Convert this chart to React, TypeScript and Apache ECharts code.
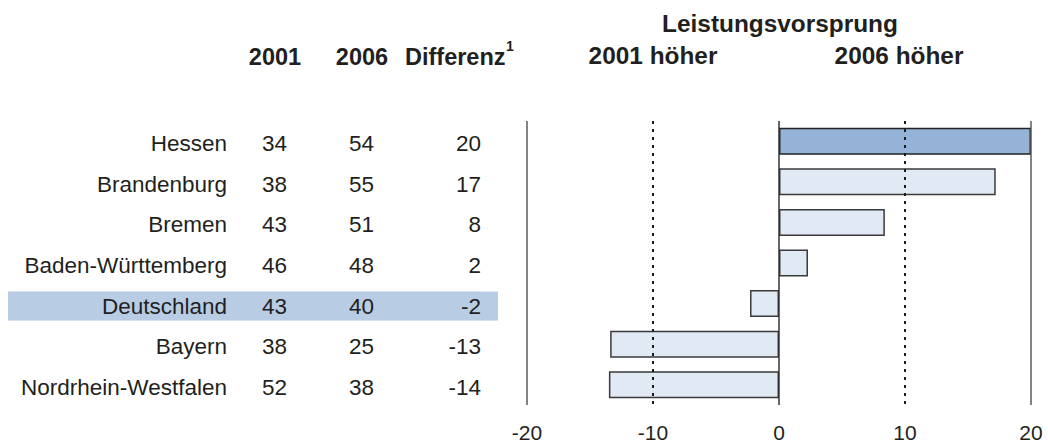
import React, { useEffect, useRef } from "react";
import * as echarts from "echarts";

const regions = [
  "Hessen",
  "Brandenburg",
  "Bremen",
  "Baden-Württemberg",
  "Deutschland",
  "Bayern",
  "Nordrhein-Westfalen",
];
const score2001 = ["34", "38", "43", "46", "43", "38", "52"];
const score2006 = ["54", "55", "51", "48", "40", "25", "38"];
const diffLabels = ["20", "17", "8", "2", "-2", "-13", "-14"];
const barValues = [20, 17.2, 8.4, 2.3, -2.3, -13.4, -13.5];
const highlightBar = "Hessen";
const highlightRow = "Deutschland";
const refLines = [-20, -10, 0, 10, 20];

const FONT = "'Liberation Sans', Arial, Helvetica, sans-serif";
const TXT = "#231f20";
const BAND = "#b8cce4";

function tok(width: number, hl: boolean) {
  const s: any = {
    width,
    align: "right",
    fontSize: 22.5,
    color: TXT,
    fontFamily: FONT,
    lineHeight: hl ? 29 : 22,
  };
  if (hl) {
    s.backgroundColor = BAND;
    s.height = 29;
  }
  return s;
}

export default function App() {
  const ref = useRef<HTMLDivElement>(null);
  useEffect(() => {
    if (!ref.current) return;
    const chart = echarts.init(ref.current, undefined, { renderer: "svg" });

    const refLineData = refLines.map((v) => {
      const dotted = v === -10 || v === 10;
      return {
        xAxis: v,
        lineStyle: dotted
          ? { type: [3, 5], color: "#1a1a1a", width: 2 }
          : { type: "solid", color: v === 0 ? "#333" : "#5a5a5a", width: 1.5 },
      };
    });

    const colWidths = { n: 219, a: 60, b: 87, c: 107, p: 17 };
    const rich: any = {};
    (Object.keys(colWidths) as (keyof typeof colWidths)[]).forEach((k) => {
      rich[k] = tok(colWidths[k], false);
      rich[k + "h"] = tok(colWidths[k], true);
    });

    const bold = (size: number) => ({
      fontSize: size,
      fontWeight: "bold",
      fontFamily: FONT,
      fill: TXT,
      verticalAlign: "middle",
    });

    chart.setOption({
      animation: false,
      textStyle: { fontFamily: FONT },
      grid: { left: 527, right: 17, top: 121, bottom: 41, containLabel: false },
      xAxis: {
        type: "value",
        min: -20,
        max: 20,
        interval: 10,
        axisLine: { show: false },
        axisTick: { show: false },
        splitLine: { show: false },
        axisLabel: { fontSize: 21, color: TXT, margin: 17, fontFamily: FONT },
      },
      yAxis: {
        type: "category",
        inverse: true,
        data: regions,
        axisLine: { show: false },
        axisTick: { show: false },
        axisLabel: {
          margin: 29,
          padding: [5, 0, 0, 0],
          formatter: (value: string, idx: number) => {
            const h = value === highlightRow ? "h" : "";
            return `{n${h}|${value}}{a${h}|${score2001[idx]}}{b${h}|${score2006[idx]}}{c${h}|${diffLabels[idx]}}{p${h}|\u00a0}`;
          },
          rich,
        },
      },
      series: [
        {
          type: "line",
          data: [],
          z: 1,
          silent: true,
          markLine: {
            silent: true,
            symbol: ["none", "none"],
            label: { show: false },
            emphasis: { disabled: true },
            data: refLineData,
          },
        },
        {
          type: "bar",
          z: 3,
          barWidth: 27,
          data: barValues.map((v, i) => ({
            value: v,
            itemStyle:
              regions[i] === highlightBar
                ? { color: "#95b3d7", borderColor: "#222", borderWidth: 1.5 }
                : { color: "#e1e9f5", borderColor: "#3a3a3a", borderWidth: 1.5 },
          })),
        },
      ],
      graphic: [
        { type: "text", x: 275, y: 57, style: { text: "2001", align: "center", ...bold(23.5) } },
        { type: "text", x: 362, y: 57, style: { text: "2006", align: "center", ...bold(23.5) } },
        { type: "text", x: 405, y: 57, style: { text: "Differenz", align: "left", ...bold(23.5) } },
        { type: "text", x: 506, y: 46, style: { text: "1", align: "left", ...bold(14) } },
        { type: "text", x: 780, y: 23, style: { text: "Leistungsvorsprung", align: "center", ...bold(24.4) } },
        { type: "text", x: 653, y: 55, style: { text: "2001 höher", align: "center", ...bold(24.4) } },
        { type: "text", x: 899, y: 55, style: { text: "2006 höher", align: "center", ...bold(24.4) } },
      ],
    });
    return () => chart.dispose();
  }, []);
  return (
    <div
      ref={ref}
      style={{ position: "fixed", left: 0, top: 0, width: 1048, height: 446, background: "#fff" }}
    />
  );
}
